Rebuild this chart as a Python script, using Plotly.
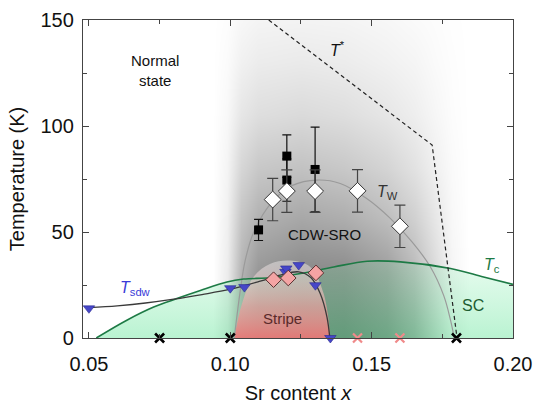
import plotly.graph_objects as go

# ---------------- data ----------------
# T* (pseudogap) dashed line
tstar_x = [0.1136, 0.1714, 0.1802]
tstar_y = [150, 91, 0]

# T_W dome (gray guide line)
tw_x = [0.1014, 0.1035, 0.1053, 0.1083, 0.1148, 0.122, 0.1307, 0.1389, 0.148, 0.1566, 0.1645, 0.1708, 0.1755, 0.1779, 0.1792]
tw_y = [0, 22, 36.7, 50, 64.2, 72, 74.5, 72.9, 66, 56.4, 45, 33.5, 20, 8.4, 0]

# Tc (superconducting dome)
tc_x = [0.0526, 0.0634, 0.0729, 0.0811, 0.0894, 0.0988, 0.1047, 0.1142, 0.1248, 0.1366, 0.1484, 0.1602, 0.1779, 0.1896, 0.2]
tc_y = [0, 8.4, 14.6, 18.6, 22.4, 26.4, 27.8, 28.4, 30.4, 33.5, 36.2, 35.9, 32.8, 28.8, 25.3]

# T_sdw guide line
sdw_x = [0.05, 0.06, 0.07, 0.08, 0.09, 0.10, 0.1106, 0.118, 0.1242, 0.1285, 0.1318, 0.1342, 0.1352]
sdw_y = [14.3, 15.2, 16.5, 18.3, 20.5, 23, 26.8, 29.8, 31.2, 28.5, 21, 9.9, 0]

# Stripe region outline
stripe_x = [0.1014, 0.1041, 0.1082, 0.1142, 0.1212, 0.1283, 0.133, 0.1354]
stripe_y = [0, 16, 28.8, 35, 36.5, 33.5, 21, 0]

# CDW-SRO shading: gray level (0-255) on a coarse grid
shade_x = [0.094, 0.099, 0.104, 0.11, 0.125, 0.14, 0.155, 0.165, 0.172, 0.178, 0.184]
shade_y = [0, 30, 55, 80, 105, 130, 150]
shade_z = [
    [255, 232, 168, 134, 114, 110, 128, 160, 204, 242, 255],
    [255, 236, 180, 150, 136, 138, 156, 186, 218, 245, 255],
    [255, 240, 196, 176, 166, 172, 188, 208, 230, 248, 255],
    [255, 244, 214, 200, 194, 200, 212, 226, 240, 250, 255],
    [255, 248, 230, 222, 218, 222, 230, 238, 246, 252, 255],
    [255, 251, 241, 236, 234, 236, 241, 245, 250, 253, 255],
    [255, 253, 247, 244, 243, 244, 247, 250, 252, 254, 255],
]

# black squares with error bars
sq_x = [0.11, 0.12, 0.12, 0.13]
sq_y = [51, 74.5, 85.8, 79.5]
sq_err = [5, 10, 10, 20]

# white diamonds (T_W) with error bars
dia_x = [0.115, 0.12, 0.13, 0.145, 0.16]
dia_y = [65.3, 69.3, 69.3, 69.4, 52.7]
dia_err = [10, 10, 10, 10, 10]

# blue triangles (T_sdw)
tri_x = [0.05, 0.10, 0.105, 0.1195, 0.1198, 0.1242, 0.1301, 0.1354]
tri_y = [14, 23.5, 24, 31.2, 32.8, 34.4, 24.9, 0]

# pink diamonds (stripe)
pd_x = [0.1153, 0.1205, 0.1303]
pd_y = [27.5, 28.3, 30.7]

# crosses on axis
bx_x = [0.075, 0.10, 0.18]
bx_y = [0, 0, 0]
px_x = [0.145, 0.16]
px_y = [0, 0]

x_ticks = [0.05, 0.10, 0.15, 0.20]
x_ticklabels = ["0.05", "0.10", "0.15", "0.20"]
y_ticks = [0, 50, 100, 150]

FONT = "Liberation Sans, Arial, sans-serif"

fig = go.Figure()

# ---- gray CDW-SRO shading ----
fig.add_trace(go.Heatmap(
    x=shade_x, y=shade_y, z=shade_z, zmin=0, zmax=255, zsmooth="best",
    colorscale=[[0, "rgb(0,0,0)"], [1, "rgb(255,255,255)"]], showscale=False,
    hoverinfo="skip"))

# ---- SC region (green) ----
fig.add_trace(go.Scatter(
    x=tc_x, y=tc_y, mode="none", fill="tozeroy", line_shape="spline",
    fillgradient=dict(type="vertical", start=0, stop=37,
                      colorscale=[[0, "rgba(80,225,140,0.40)"], [1, "rgba(120,235,165,0.18)"]]),
    hoverinfo="skip", showlegend=False))

# ---- Stripe region (pink) ----
fig.add_trace(go.Scatter(
    x=stripe_x, y=stripe_y, mode="none", fill="toself", line_shape="spline",
    fillgradient=dict(type="vertical", start=0, stop=37,
                      colorscale=[[0, "rgba(236,118,118,0.92)"], [0.4, "rgba(238,160,160,0.7)"],
                                  [1, "rgba(255,255,255,0.4)"]]),
    hoverinfo="skip", showlegend=False))

# ---- lines ----
fig.add_trace(go.Scatter(x=tw_x, y=tw_y, mode="lines", line=dict(color="#9a9a9a", width=1.2, shape="spline"),
                         showlegend=False, hoverinfo="skip"))
fig.add_trace(go.Scatter(x=tc_x, y=tc_y, mode="lines", line=dict(color="#1d7a45", width=1.6, shape="spline"),
                         showlegend=False, hoverinfo="skip"))
fig.add_trace(go.Scatter(x=tstar_x, y=tstar_y, mode="lines", line=dict(color="#222", width=1.2, dash="4px,3px"),
                         showlegend=False, hoverinfo="skip"))
fig.add_trace(go.Scatter(x=sdw_x, y=sdw_y, mode="lines", line=dict(color="#3a3a3a", width=1.3, shape="spline"),
                         showlegend=False, hoverinfo="skip"))

# ---- markers ----
fig.add_trace(go.Scatter(
    x=sq_x, y=sq_y, mode="markers",
    marker=dict(symbol="square", size=9, color="black"),
    error_y=dict(type="data", array=sq_err, color="#111", thickness=1.2, width=4.5),
    showlegend=False))
fig.add_trace(go.Scatter(
    x=dia_x, y=dia_y, mode="markers",
    marker=dict(symbol="diamond", size=13, color="white", line=dict(color="#333", width=1)),
    error_y=dict(type="data", array=dia_err, color="#444", thickness=1.2, width=5.5),
    showlegend=False))
fig.add_trace(go.Scatter(
    x=tri_x, y=tri_y, mode="markers", cliponaxis=False,
    marker=dict(symbol="triangle-down", size=10, color="#4646c8", line=dict(color="#2a2a90", width=0.6)),
    showlegend=False))
fig.add_trace(go.Scatter(
    x=pd_x, y=pd_y, mode="markers",
    marker=dict(symbol="diamond", size=12, color="#f4a4a4", line=dict(color="#5a3030", width=1)),
    showlegend=False))
fig.add_trace(go.Scatter(
    x=bx_x, y=bx_y, mode="markers", cliponaxis=False,
    marker=dict(symbol="x-thin", size=9, line=dict(color="black", width=2.6)),
    showlegend=False))
fig.add_trace(go.Scatter(
    x=px_x, y=px_y, mode="markers", cliponaxis=False,
    marker=dict(symbol="x-thin", size=9, line=dict(color="#f08a8a", width=2.2)),
    showlegend=False))

# ---- annotations ----
def ann(x, y, text, color="#111", size=14, xanchor="center"):
    fig.add_annotation(x=x, y=y, text=text, showarrow=False, xanchor=xanchor,
                       font=dict(family=FONT, size=size, color=color))

ann(0.0643, 126, "Normal<br>state", size=15, xanchor="left")
ann(0.1379, 136.3, "<i>T</i><sup>*</sup>", size=16)
ann(0.1555, 68.5, "<i>T</i><sub>W</sub>", color="#333", size=16)
ann(0.1334, 48.9, "CDW-SRO", size=15)
ann(0.1185, 9.3, "Stripe", color="#5a2a2a", size=15)
ann(0.186, 15.4, "SC", color="#1d5c32", size=16)
ann(0.1925, 34, "<i>T</i><sub>c</sub>", color="#1d7a45", size=16)
ann(0.0665, 23.5, "<i>T</i><sub>sdw</sub>", color="#3a3ad8", size=16)

axis_common = dict(showline=True, linecolor="#444", linewidth=1.4, mirror="ticks",
                   ticks="inside", ticklen=6, tickwidth=1.2, tickcolor="#444",
                   showgrid=False, zeroline=False, automargin=False,
                   tickfont=dict(family=FONT, size=20, color="#111"))

fig.update_xaxes(range=[0.0479, 0.2], tickvals=x_ticks, ticktext=x_ticklabels,
                 minor=dict(ticks="inside", ticklen=4, tickvals=[0.075, 0.125, 0.175], tickcolor="#444"),
                 title=dict(text="Sr content <i>x</i>", font=dict(family=FONT, size=20, color="#111"), standoff=17),
                 ticklabelstandoff=8, **axis_common)
fig.update_yaxes(range=[0, 150], tickvals=y_ticks,
                 minor=dict(ticks="inside", ticklen=4, tickvals=[25, 75, 125], tickcolor="#444"),
                 title=dict(text="Temperature (K)", font=dict(family=FONT, size=20, color="#111"), standoff=10),
                 ticklabelstandoff=4, **axis_common)

fig.update_layout(width=534, height=404, margin=dict(l=83, r=21, t=20, b=66),
                  plot_bgcolor="white", paper_bgcolor="white", showlegend=False)

fig.write_html("out.html")
